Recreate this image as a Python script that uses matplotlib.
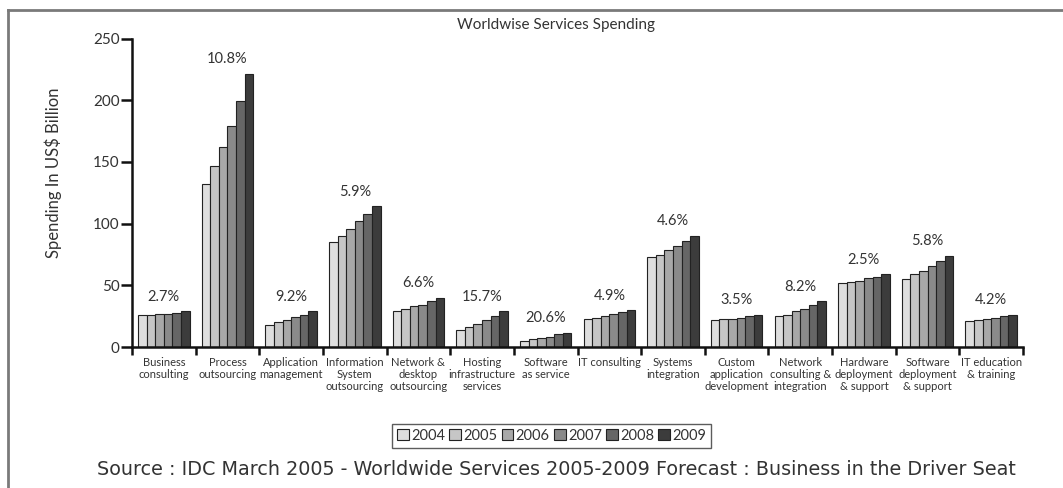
import matplotlib
matplotlib.use("Agg")
import matplotlib.pyplot as plt
import numpy as np
from matplotlib.lines import Line2D

plt.rcParams['font.family'] = ['Lato', 'DejaVu Sans']

# service segments and their spending, US$ billion
categories = [
    "Business\nconsulting", "Process\noutsourcing", "Application\nmanagement",
    "Information\nSystem\noutsourcing", "Network &\ndesktop\noutsourcing",
    "Hosting\ninfrastructure\nservices", "Software\nas service", "IT consulting",
    "Systems\nintegration", "Custom\napplication\ndevelopment",
    "Network\nconsulting &\nintegration", "Hardware\ndeployment\n& support",
    "Software\ndeployment\n& support", "IT education\n& training",
]
years = ["2004", "2005", "2006", "2007", "2008", "2009"]
spend_2004 = [26.2, 132.5, 18.1, 85.1, 28.9, 14.0, 4.6, 23.0, 73.0, 21.6, 25.1, 51.9, 54.9, 20.8]
spend_2005 = [26.2, 146.7, 20.0, 90.0, 30.8, 16.2, 6.2, 23.8, 74.9, 22.7, 26.2, 53.0, 58.9, 21.6]
spend_2006 = [27.0, 161.7, 22.2, 96.0, 33.0, 18.4, 7.3, 25.1, 78.9, 22.7, 28.9, 53.8, 61.9, 22.7]
spend_2007 = [27.0, 179.0, 24.0, 102.2, 34.3, 22.2, 7.8, 27.0, 82.2, 23.8, 30.8, 55.9, 65.9, 23.5]
spend_2008 = [27.8, 199.0, 26.0, 108.1, 37.0, 25.1, 10.3, 28.1, 85.9, 25.1, 33.8, 57.0, 70.0, 24.9]
spend_2009 = [28.9, 221.6, 28.9, 114.0, 40.0, 28.9, 11.4, 29.7, 90.0, 25.9, 37.0, 58.9, 73.8, 25.9]
growth = ["2.7%", "10.8%", "9.2%", "5.9%", "6.6%", "15.7%", "20.6%", "4.9%",
          "4.6%", "3.5%", "8.2%", "2.5%", "5.8%", "4.2%"]

series = [spend_2004, spend_2005, spend_2006, spend_2007, spend_2008, spend_2009]
colors = ["#dedede", "#c6c6c6", "#a8a8a8", "#8a8a8a", "#666666", "#3c3c3c"]

fig = plt.figure(figsize=(10.63, 4.88), dpi=100)
ax = fig.add_axes([0.1242, 0.2889, 0.8382, 0.6322])

n = len(categories)
centers = np.arange(n) + 0.5
bw = 0.135
for k, (vals, col) in enumerate(zip(series, colors)):
    off = (k - 2.5) * bw
    ax.bar(centers + off, vals, width=bw, color=col, edgecolor="#222222",
           linewidth=0.8, label=years[k])

tops = np.max(np.array(series), axis=0)
for x, t, g in zip(centers, tops, growth):
    ax.text(x, t + 12, g, ha="center", va="center", fontsize=10.5, color="#333333")

ax.set_xlim(0, n)
ax.set_ylim(0, 250)
ax.set_yticks([0, 50, 100, 150, 200, 250])
ax.tick_params(axis="y", direction="out", length=8, width=1.8, labelsize=11,
               colors="#111111", labelcolor="#333333", pad=1)
ax.set_xticks(np.arange(n + 1))
ax.set_xticklabels([])
ax.tick_params(axis="x", which="major", direction="out", length=6, width=1.8, colors="#111111")
ax.set_xticks(centers, minor=True)
ax.set_xticklabels(categories, minor=True, fontsize=8, color="#333333", linespacing=1.12)
ax.tick_params(axis="x", which="minor", length=0, pad=7)
for s in ["top", "right"]:
    ax.spines[s].set_visible(False)
for s in ["left", "bottom"]:
    ax.spines[s].set_linewidth(1.8)
    ax.spines[s].set_color("#111111")
ax.set_ylabel("Spending In US$ Billion", fontsize=12, color="#333333")
ax.yaxis.set_label_coords(-0.0786, 0.565)

fig.text(0.523, 0.948, "Worldwise Services Spending", ha="center", va="center",
         fontsize=11, color="#333333")

leg = fig.legend(loc="center", bbox_to_anchor=(0.519, 0.107), ncol=6, fontsize=10.5,
                 frameon=True, fancybox=False, edgecolor="#333333", handlelength=0.8,
                 handleheight=0.8, handletextpad=0.15, columnspacing=0.3,
                 borderpad=0.35, labelcolor="#333333")
leg.get_frame().set_linewidth(1.0)

fig.text(0.523, 0.037, "Source : IDC March 2005 - Worldwide Services 2005-2009 Forecast : Business in the Driver Seat",
         ha="center", va="center", fontsize=13.8, color="#333333", family="DejaVu Sans")

# grey frame along the top and left edge
fig.add_artist(Line2D([0.0075, 0.0075], [0.0, 0.979], transform=fig.transFigure,
                      color="#7a7a7a", linewidth=2))
fig.add_artist(Line2D([0.0075, 1.0], [0.979, 0.979], transform=fig.transFigure,
                      color="#7a7a7a", linewidth=2))

fig.savefig("out.png", dpi=100)
